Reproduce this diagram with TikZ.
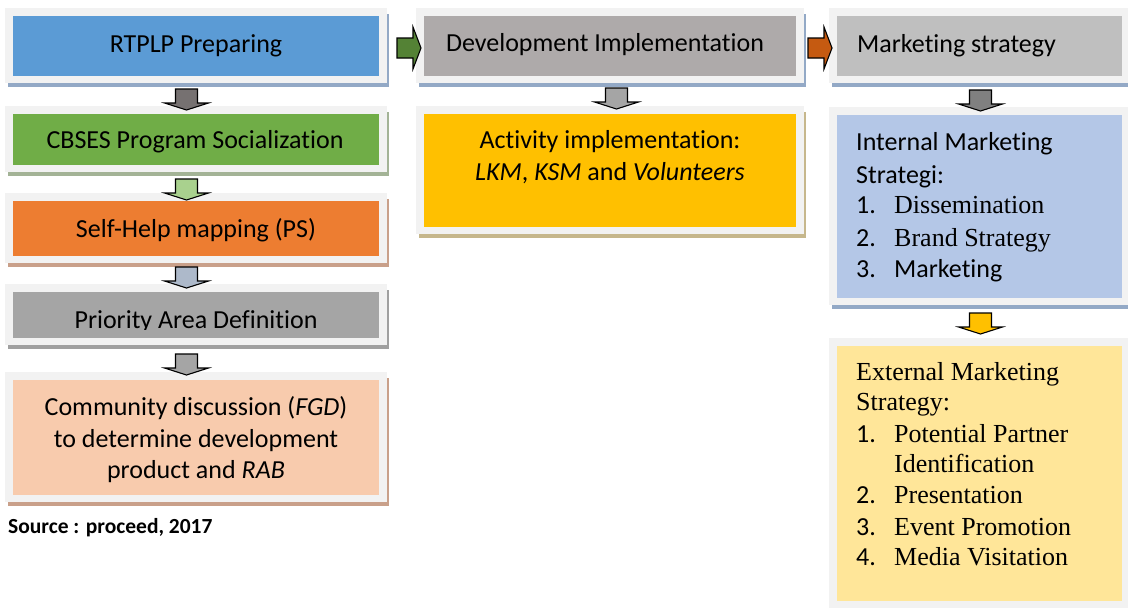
\documentclass[tikz,border=0pt]{standalone}
\usepackage{fontspec}
\setmainfont{Carlito}[Ligatures=NoCommon]
\newfontfamily\tnr{Liberation Serif}
\usetikzlibrary{fit,calc}
\definecolor{framegray}{HTML}{F2F2F2}
\definecolor{cblue}{HTML}{5B9BD5}
\definecolor{cgreen}{HTML}{70AD47}
\definecolor{corange}{HTML}{ED7D31}
\definecolor{cgray}{HTML}{A5A5A5}
\definecolor{cpeach}{HTML}{F8CBAD}
\definecolor{cgrayb}{HTML}{AEAAAA}
\definecolor{cgold}{HTML}{FFC000}
\definecolor{cgrayc}{HTML}{BFBFBF}
\definecolor{clblue}{HTML}{B4C7E7}
\definecolor{clyellow}{HTML}{FFE699}
\definecolor{shblue}{HTML}{93A9C6}
\definecolor{shgreen}{HTML}{A3B396}
\definecolor{shbrown}{HTML}{C9A08A}
\definecolor{shgray}{HTML}{A0A0A0}
\definecolor{shtan}{HTML}{C6B78C}
\definecolor{adark}{HTML}{767171}
\definecolor{alg}{HTML}{A9D18E}
\definecolor{albg}{HTML}{ADB9CA}
\definecolor{agreen}{HTML}{548235}
\definecolor{aorange}{HTML}{C55A11}
\tikzset{
  inbox/.style={inner sep=0pt, draw=none},
  lbl/.style={font=\fontsize{26}{31}\selectfont, inner sep=0pt, text=black},
  srclbl/.style={font=\fontsize{21.5}{26}\selectfont\bfseries, inner sep=0pt, text=black},
  arrowline/.style={draw=black, line width=1.1pt, line join=miter},
}
% name, x1, y1, x2, y2 (outer frame), fill, shadow
\newcommand\cbox[7]{%
  \fill[#7] (#2+3,#3+6) rectangle (#4+2,#5+4);
  \fill[framegray] (#2,#3) rectangle (#4,#5);
  \coordinate (#1-a) at (#2+8,#3+8);
  \coordinate (#1-b) at (#4-8,#5-7);
  \node[fit=(#1-a)(#1-b), inbox, fill=#6] (#1) {};
}
% down block arrow: x centre, y top, fill
\newcommand\darrow[3]{%
  \draw[arrowline, fill=#3] (#1-11,#2) -- (#1+11,#2) -- (#1+11,#2+14) -- (#1+22,#2+14)
    -- (#1,#2+21) -- (#1-22,#2+14) -- (#1-11,#2+14) -- cycle;
}
% right block arrow: x left, y centre, fill
\newcommand\rarrow[3]{%
  \draw[arrowline, fill=#3] (#1,#2-10) -- (#1+16,#2-10) -- (#1+16,#2-21) -- (#1+24,#2)
    -- (#1+16,#2+21) -- (#1+16,#2+10) -- (#1,#2+10) -- cycle;
}
\begin{document}
\begin{tikzpicture}[x=1pt,y=-1pt]
\useasboundingbox (0,0) rectangle (1128,608);
\fill[white] (0,0) rectangle (1128,608);

% column 1
\cbox{b1}{5}{8}{387}{83}{cblue}{shblue}
\cbox{b2}{5}{106}{387}{172}{cgreen}{shgreen}
\cbox{b3}{5}{193}{387}{263}{corange}{shbrown}
\cbox{b4}{5}{284}{387}{345}{cgray}{shgray}
\cbox{b5}{5}{372}{387}{502}{cpeach}{shbrown}
% column 2
\cbox{d1}{416}{8}{804}{83}{cgrayb}{shblue}
\cbox{d2}{416}{106}{804}{234}{cgold}{shtan}
% column 3
\cbox{m1}{829}{8}{1130}{83}{cgrayc}{shblue}
\cbox{m2}{829}{107}{1130}{305}{clblue}{shblue}
\cbox{m3}{829}{338}{1130}{608}{clyellow}{framegray}

% arrows
\darrow{186.5}{89}{adark}
\darrow{186.5}{179}{alg}
\darrow{186.5}{267}{albg}
\darrow{186.5}{354}{cgray}
\darrow{616.5}{88}{cgray}
\darrow{980.5}{90}{gray}
\darrow{980.5}{313}{cgold}
\rarrow{397}{48}{agreen}
\rarrow{808}{48}{aorange}

% texts column 1
\node[lbl, anchor=base] (t1) at (196,52) {RTPLP Preparing};
\node[lbl, anchor=base] (t2) at (195,148) {CBSES Program Socialization};
\node[lbl, anchor=base] (t3) at (196,237) {Self-Help mapping (PS)};
\begin{scope}
  \clip (13,280) rectangle (379,329);
  \node[lbl, anchor=base] (t4) at (196,328) {Priority Area Definition};
\end{scope}
\node[lbl, anchor=base] (t5a) at (196,415) {Community discussion (\textit{FGD})};
\node[lbl, anchor=base] (t5b) at (196,447) {to determine development};
\node[lbl, anchor=base] (t5c) at (196,478) {product and \textit{RAB}};
\node[srclbl, anchor=base west] (src) at (8,533) {Source : proceed, 2017};

% texts column 2
\node[lbl, anchor=base] (u1) at (605,51) {Development Implementation};
\node[lbl, anchor=base] (u2a) at (610,148) {Activity implementation:};
\node[lbl, anchor=base] (u2b) at (610,180) {\textit{LKM}, \textit{KSM} and \textit{Volunteers}};

% texts column 3
\node[lbl, anchor=base west] (v1) at (857,52) {Marketing strategy};
\node[lbl, anchor=base west] (v2a) at (856,150) {Internal Marketing};
\node[lbl, anchor=base west] (v2b) at (856,183) {Strategi:};
\node[lbl, anchor=base west] (v2c) at (856,213) {\makebox[38pt][l]{1.}{\tnr Dissemination}};
\node[lbl, anchor=base west] (v2d) at (856,246) {\makebox[38pt][l]{2.}{\tnr Brand Strategy}};
\node[lbl, anchor=base west] (v2e) at (856,277) {\makebox[38pt][l]{3.}Marketing};

\node[lbl, anchor=base west] (w1) at (856,380) {\tnr External Marketing};
\node[lbl, anchor=base west] (w2) at (856,410) {\tnr Strategy:};
\node[lbl, anchor=base west] (w3) at (856,442) {\makebox[38pt][l]{1.}{\tnr Potential Partner}};
\node[lbl, anchor=base west] (w4) at (894,472) {\tnr Identification};
\node[lbl, anchor=base west] (w5) at (856,503) {\makebox[38pt][l]{2.}{\tnr Presentation}};
\node[lbl, anchor=base west] (w6) at (856,535) {\makebox[38pt][l]{3.}{\tnr Event Promotion}};
\node[lbl, anchor=base west] (w7) at (856,565) {\makebox[38pt][l]{4.}{\tnr Media Visitation}};
\end{tikzpicture}
\end{document}
